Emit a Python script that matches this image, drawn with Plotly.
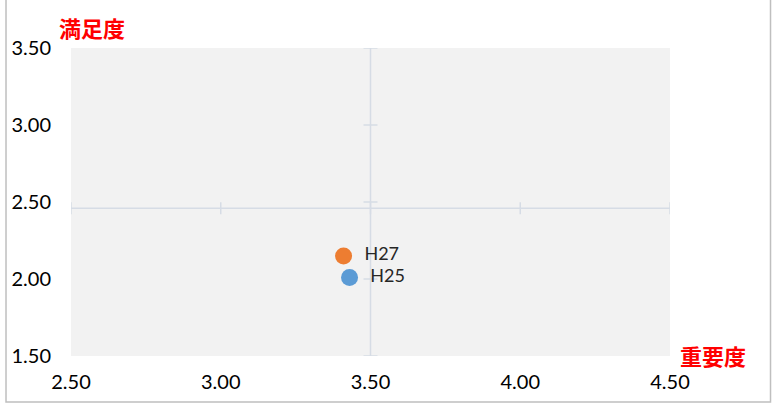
import plotly.graph_objects as go

# Data
series_names = ["H27", "H25"]
importance = [3.41, 3.43]      # 重要度 (x)
satisfaction = [2.15, 2.01]    # 満足度 (y)
series_colors = ["#ED7D31", "#5B9BD5"]

x_ticks = [2.5, 3.0, 3.5, 4.0, 4.5]
x_tick_labels = ["2.50", "3.00", "3.50", "4.00", "4.50"]
y_ticks = [1.5, 2.0, 2.5, 3.0, 3.5]
y_tick_labels = ["1.50", "2.00", "2.50", "3.00", "3.50"]

x_title = "重要度"
y_title = "満足度"

x_cross = 3.5
y_cross = 2.46

axis_color = "#D6DCE5"
font_family = "Lato, 'Open Sans', sans-serif"
cjk_font = "Noto Sans CJK JP"

fig = go.Figure()

for name, xv, yv, col in zip(series_names, importance, satisfaction, series_colors):
    fig.add_trace(go.Scatter(
        x=[xv], y=[yv], mode="markers+text", name=name,
        marker=dict(size=17, color=col),
        text=["  " + name], textposition="middle right",
        textfont=dict(family=font_family, size=18, color="#262626"),
        showlegend=False, cliponaxis=False,
    ))

shapes = []
shapes.append(dict(type="line", xref="x", yref="y", x0=x_cross, x1=x_cross,
                   y0=y_ticks[0], y1=y_ticks[-1], line=dict(color=axis_color, width=1.5), layer="below"))
shapes.append(dict(type="line", xref="x", yref="y", x0=x_ticks[0], x1=x_ticks[-1],
                   y0=y_cross, y1=y_cross, line=dict(color=axis_color, width=1.5), layer="below"))
for xt in x_ticks:
    shapes.append(dict(type="line", xref="x", yref="y", xsizemode="scaled", ysizemode="pixel",
                       yanchor=y_cross, x0=xt, x1=xt, y0=-6, y1=6,
                       line=dict(color=axis_color, width=1.5), layer="below"))
for yt in y_ticks:
    shapes.append(dict(type="line", xref="x", yref="y", xsizemode="pixel", ysizemode="scaled",
                       xanchor=x_cross, x0=-7, x1=7, y0=yt, y1=yt,
                       line=dict(color=axis_color, width=1.5), layer="below"))
shapes.append(dict(type="rect", xref="paper", yref="paper", x0=-0.1085, x1=1.1678,
                   y0=-0.149, y1=1.3, line=dict(color="#BFBFBF", width=1.5), layer="below"))

fig.update_layout(
    width=773, height=405,
    margin=dict(l=71, r=103, t=48, b=49, autoexpand=False),
    paper_bgcolor="white", plot_bgcolor="#F2F2F2",
    shapes=shapes,
    xaxis=dict(range=[x_ticks[0], x_ticks[-1]], tickvals=x_ticks, ticktext=x_tick_labels,
               showgrid=False, zeroline=False, showline=False, ticks="", automargin=False,
               tickfont=dict(family=font_family, size=20, color="#000000"),
               ticklabelstandoff=12),
    yaxis=dict(range=[y_ticks[0], y_ticks[-1]], tickvals=y_ticks, ticktext=y_tick_labels,
               showgrid=False, zeroline=False, showline=False, ticks="", automargin=False,
               tickfont=dict(family=font_family, size=20, color="#000000"),
               ticklabelstandoff=19),
    annotations=[
        dict(text="<b>" + y_title + "</b>", xref="paper", yref="paper", x=(92 - 71) / 599,
             y=(356 - 27) / 308, showarrow=False, xanchor="center", yanchor="middle",
             font=dict(family=cjk_font, size=22, color="#FF0000")),
        dict(text="<b>" + x_title + "</b>", xref="paper", yref="paper", x=(713 - 71) / 599,
             y=(356 - 355) / 308, showarrow=False, xanchor="center", yanchor="middle",
             font=dict(family=cjk_font, size=22, color="#FF0000")),
    ],
)

fig.write_html("out.html", config={"displayModeBar": False},
               post_script="document.body.style.margin='0';document.body.style.overflow='hidden';")
